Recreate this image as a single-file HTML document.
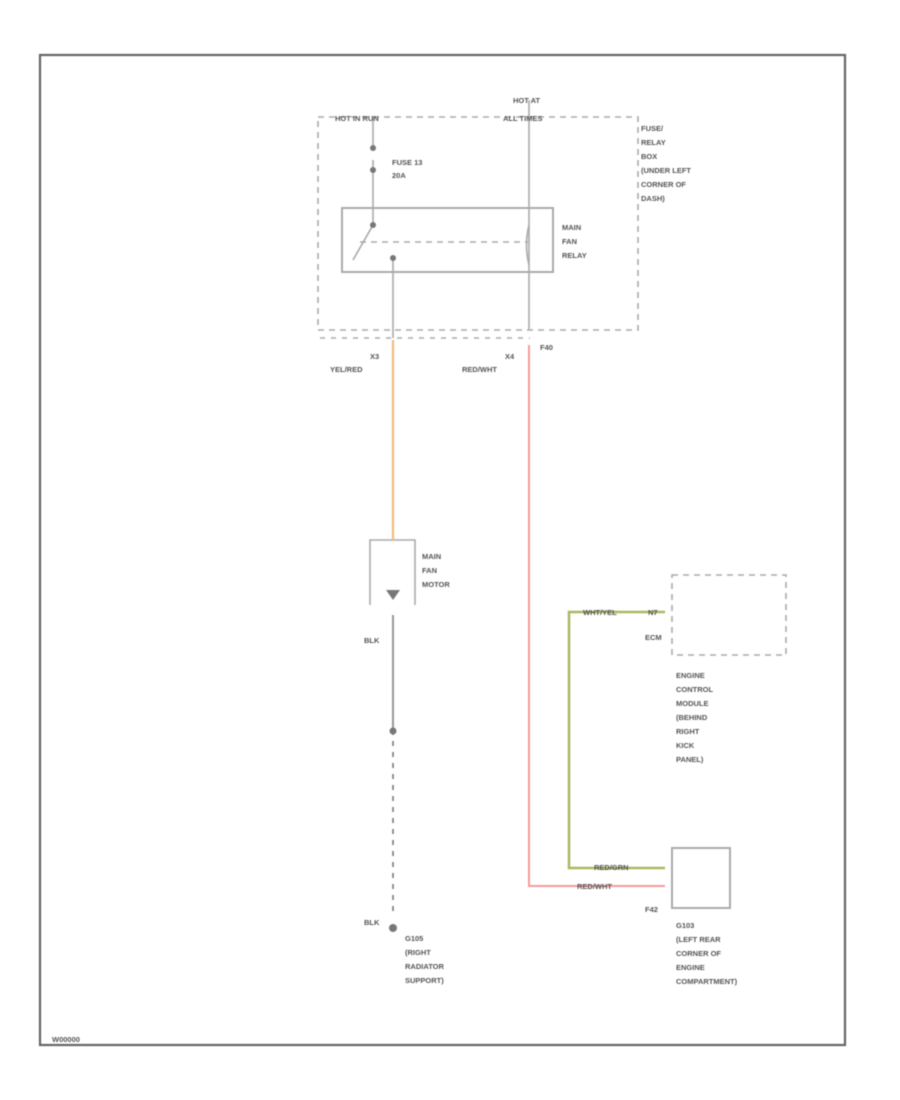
<!DOCTYPE html>
<html><head><style>
body{margin:0;background:#fff;}
svg{display:block;filter:blur(0.6px);}
text{font-family:"Liberation Sans",sans-serif;font-size:7.5px;fill:#555;font-weight:bold;}
</style></head><body>
<svg width="900" height="1100" viewBox="0 0 900 1100">
<rect x="40" y="55" width="805" height="990" fill="none" stroke="#666" stroke-width="2.2"/>
<g fill="none" stroke="#aaa" stroke-width="1.6">
<rect x="318" y="117" width="320" height="213" stroke-dasharray="6,5"/>
<rect x="342" y="208" width="211" height="64" stroke-width="2"/>
<line x1="373" y1="117" x2="373" y2="148"/>
<line x1="373" y1="160" x2="373" y2="170"/>
<path d="M373 170 L373 208 M373 208 L373 225 L353 260"/>
<line x1="360" y1="242" x2="528" y2="242" stroke-dasharray="6,5"/>
<line x1="529" y1="100" x2="529" y2="330"/>
<path d="M529 225 Q524 245 529 265"/>
<line x1="393" y1="258" x2="393" y2="338"/>
<line x1="320" y1="338" x2="530" y2="338" stroke-dasharray="5,6"/>
<rect x="672" y="575" width="114" height="80" stroke-dasharray="6,5"/>
<rect x="672" y="848" width="58" height="60" stroke-width="2"/>
<path d="M370 605 L370 540 L415 540 L415 605"/>
<line x1="393" y1="615" x2="393" y2="730" stroke="#999" stroke-width="2"/>
<line x1="393" y1="730" x2="393" y2="915" stroke="#777" stroke-dasharray="5,6"/>
</g>
<g fill="#777">
<circle cx="373" cy="148" r="3"/><circle cx="373" cy="170" r="3"/>
<circle cx="393" cy="258" r="3"/><circle cx="373" cy="225" r="3"/>
<circle cx="393" cy="731" r="3.5"/><circle cx="393" cy="928" r="4"/>
<path d="M386 590 L400 590 L393 600 Z"/>
</g>
<line x1="393" y1="340" x2="393" y2="540" stroke="#f5b97a" stroke-width="2.2"/>
<path d="M529 345 L529 886 L665 886" fill="none" stroke="#f59a9a" stroke-width="2"/>
<path d="M665 612 L569 612 L569 868 L665 868" fill="none" stroke="#aab860" stroke-width="2.5"/>
<text x="335" y="121">HOT IN RUN</text>
<text x="513" y="103">HOT AT</text>
<text x="503" y="121">ALL TIMES</text>
<text x="392" y="165">FUSE 13</text>
<text x="392" y="178">20A</text>
<text x="641" y="131">FUSE/</text><text x="641" y="145">RELAY</text><text x="641" y="159">BOX</text>
<text x="641" y="173">(UNDER LEFT</text><text x="641" y="187">CORNER OF</text><text x="641" y="201">DASH)</text>
<text x="562" y="230">MAIN</text><text x="562" y="244">FAN</text><text x="562" y="258">RELAY</text>
<text x="370" y="359">X3</text><text x="330" y="372">YEL/RED</text>
<text x="505" y="359">X4</text><text x="462" y="372">RED/WHT</text>
<text x="540" y="350">F40</text>
<text x="422" y="559">MAIN</text><text x="422" y="573">FAN</text><text x="422" y="587">MOTOR</text>
<text x="364" y="643">BLK</text>
<text x="364" y="925">BLK</text>
<text x="405" y="941">G105</text><text x="405" y="955">(RIGHT</text><text x="405" y="969">RADIATOR</text><text x="405" y="983">SUPPORT)</text>
<text x="583" y="615">WHT/YEL</text><text x="648" y="615">N7</text>
<text x="645" y="640">ECM</text>
<text x="676" y="678">ENGINE</text><text x="676" y="692">CONTROL</text><text x="676" y="706">MODULE</text>
<text x="676" y="720">(BEHIND</text><text x="676" y="734">RIGHT</text><text x="676" y="748">KICK</text><text x="676" y="762">PANEL)</text>
<text x="594" y="870">RED/GRN</text>
<text x="577" y="889">RED/WHT</text>
<text x="645" y="912">F42</text>
<text x="676" y="928">G103</text><text x="676" y="942">(LEFT REAR</text><text x="676" y="956">CORNER OF</text>
<text x="676" y="970">ENGINE</text><text x="676" y="984">COMPARTMENT)</text>
<text x="52" y="1042">W00000</text>
</svg>
</body></html>
